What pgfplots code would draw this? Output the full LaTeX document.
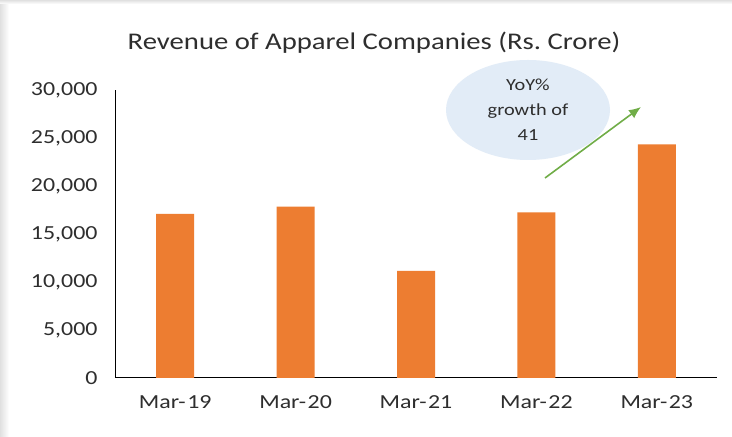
\documentclass[border=0pt]{standalone}
\usepackage{pgfplots}
\pgfplotsset{compat=1.18}
\usetikzlibrary{arrows.meta}
\usepackage{fontspec}
\setmainfont[FakeStretch=1.2]{Carlito}
\definecolor{barorange}{HTML}{ED7D31}
\definecolor{txt}{HTML}{2E2E2E}
\definecolor{bubble}{HTML}{E2ECF7}
\definecolor{arrowgreen}{HTML}{70AD47}
\begin{document}
\begin{tikzpicture}[x=1bp,y=1bp]
\fill[white] (0,0) rectangle (732,437);
\shade[left color=black!12, right color=white] (0,0) rectangle (9,433);
\shade[top color=black!12, bottom color=white] (0,433) rectangle (732,437);
\begin{axis}[
  at={(115bp,59bp)}, anchor=south west,
  scale only axis, width=602bp, height=288bp,
  xmin=-0.5, xmax=4.5, ymin=0, ymax=30000,
  axis x line=bottom, axis y line=left,
  axis line style={black, line width=1pt, -},
  xtick=data,
  xticklabels={Mar-\kern1.5pt 19,Mar-\kern1.5pt 20,Mar-\kern1.5pt 21,Mar-\kern1.5pt 22,Mar-\kern1.5pt 23},
  ytick={0,5000,10000,15000,20000,25000,30000},
  major tick length=0pt,
  scaled y ticks=false,
  /pgf/number format/.cd, 1000 sep={,}, assume math mode=true,
  /pgfplots/.cd,
  ticklabel style={font=\fontsize{20}{22}\selectfont, text=txt},
  yticklabel style={xshift=-14bp},
  xticklabel style={yshift=-14bp},
  clip=false,
]
\addplot[ybar, bar width=38bp, fill=barorange, draw=none] coordinates {
  (0,17100) (1,17850) (2,11150) (3,17250) (4,24330)
};
\end{axis}
\node[text=txt, font=\fontsize{24}{28}\selectfont] at (374,394) {Revenue of Apparel Companies (Rs.\ Crore)};
\fill[bubble] (528,327) ellipse [x radius=82, y radius=50];
\node[text=txt, font=\fontsize{17}{25}\selectfont, align=center] at (528,327) {YoY\%\\growth of\\41};
\draw[arrowgreen, line width=1.6pt, -{Latex[length=12bp,width=10bp]}] (545,259) -- (641,330);
\end{tikzpicture}
\end{document}
